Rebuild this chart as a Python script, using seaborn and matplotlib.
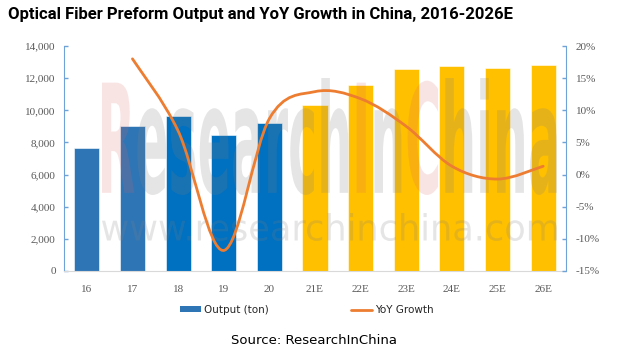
import numpy as np
import pandas as pd
import matplotlib
matplotlib.use("Agg")
import matplotlib.pyplot as plt
import seaborn as sns
from matplotlib.path import Path
from matplotlib.patches import PathPatch, Patch
from matplotlib.lines import Line2D
from matplotlib.textpath import TextPath
from matplotlib.font_manager import FontProperties
from matplotlib.transforms import Affine2D
from matplotlib.ticker import FuncFormatter

# data
years = ['16', '17', '18', '19', '20', '21E', '22E', '23E', '24E', '25E', '26E']
output_ton = [7650, 9020, 9650, 8460, 9210, 10330, 11570, 12570, 12760, 12630, 12820]
yoy_growth = [np.nan, 18.0, 6.8, -11.8, 8.7, 12.9, 11.8, 7.5, 1.3, -0.7, 1.3]
bar_colors = ['#2E75B6', '#2E75B6', '#0070C0', '#0070C0', '#0070C0',
              '#FFC000', '#FFC000', '#FFC000', '#FFC000', '#FFC000', '#FFC000']

line_color = '#ED7D31'
axis_blue = '#6FA3D8'
tick_gray = '#595959'

sns.set_style('white')
fig = plt.figure(figsize=(6.44, 3.59), dpi=100)
ax = fig.add_axes([64 / 644, 1 - 271 / 359, 502 / 644, 225 / 359])

df = pd.DataFrame({'year': years, 'output': output_ton})
sns.barplot(data=df, x='year', y='output', hue='year', palette=bar_colors,
            legend=False, width=0.55, saturation=1, ax=ax,
            edgecolor='white', linewidth=0.4)

ax.set_xlim(-0.5, 10.5)
ax.set_ylim(0, 14000)
ax.set_yticks(range(0, 14001, 2000))
ax.yaxis.set_major_formatter(FuncFormatter(lambda v, p: f'{int(v):,}'))
ax.set_xlabel('')
ax.set_ylabel('')
serif = 'Liberation Serif'
for lab in ax.get_xticklabels() + ax.get_yticklabels():
    lab.set_fontfamily(serif)
    lab.set_fontsize(8)
    lab.set_color(tick_gray)
ax.tick_params(axis='x', length=0, pad=10)
ax.tick_params(axis='y', direction='in', length=3, color=axis_blue, width=1, pad=6, left=True)
ax.spines['top'].set_visible(False)
ax.spines['right'].set_visible(False)
ax.spines['left'].set_color(axis_blue)
ax.spines['bottom'].set_color('#D9D9D9')

# watermark
def vcount(text, prop):
    return len(TextPath((0, 0), text, size=1, prop=prop).vertices) if text else 0

def place(path, x0, y0, w, h):
    ext = path.get_extents()
    return (Affine2D().translate(-ext.x0, -ext.y0)
            .scale(w / ext.width, h / ext.height)
            .translate(x0, y0) + fig.transFigure)

wm = 'ResearchInChina'
prop = FontProperties(family='DejaVu Sans', weight='bold')
full = TextPath((0, 0), wm, size=1, prop=prop)
tr = place(full, 102 / 644, 1 - 195 / 359, 455 / 644, 117 / 359)
cuts = [(vcount(wm[:i], prop), vcount(wm[:i + 1], prop)) for i in [0, 8, 10]]
gray_parts, pink_parts = [], []
prev = 0
for a, b in cuts:
    if a > prev:
        gray_parts.append(Path(full.vertices[prev:a], full.codes[prev:a]))
    pink_parts.append(Path(full.vertices[a:b], full.codes[a:b]))
    prev = b
gray_parts.append(Path(full.vertices[prev:], full.codes[prev:]))
ax.add_patch(PathPatch(Path.make_compound_path(*gray_parts), transform=tr,
                       facecolor='#808080', edgecolor='none', alpha=0.2, zorder=10, clip_on=False))
ax.add_patch(PathPatch(Path.make_compound_path(*pink_parts), transform=tr,
                       facecolor='#E06060', edgecolor='none', alpha=0.17, zorder=10, clip_on=False))

url = TextPath((0, 0), 'www.researchinchina.com', size=1,
               prop=FontProperties(family='DejaVu Sans'))
ax.add_patch(PathPatch(url, transform=place(url, 102 / 644, 1 - 241 / 359, 455 / 644, 28 / 359),
                       facecolor='#808080', edgecolor='none', alpha=0.2, zorder=10, clip_on=False))

# growth line on right axis, smoothed like the Excel curve
ax2 = ax.twinx()
ax2.set_ylim(-15, 20)
ax2.set_yticks(range(-15, 21, 5))
ax2.yaxis.set_major_formatter(FuncFormatter(lambda v, p: f'{int(v)}%'))
for lab in ax2.get_yticklabels():
    lab.set_fontfamily(serif)
    lab.set_fontsize(8)
    lab.set_color(tick_gray)
ax2.tick_params(axis='y', direction='in', length=3, color=axis_blue, width=1, pad=7)
for s in ['top', 'left', 'bottom']:
    ax2.spines[s].set_visible(False)
ax2.spines['right'].set_color(axis_blue)

pts = np.array([[i, v] for i, v in enumerate(yoy_growth) if not np.isnan(v)])
ext_pts = np.vstack([pts[0], pts, pts[-1]])
verts = [pts[0]]
codes = [Path.MOVETO]
for k in range(len(pts) - 1):
    p0, p1, p2, p3 = ext_pts[k], ext_pts[k + 1], ext_pts[k + 2], ext_pts[k + 3]
    verts += [p1 + (p2 - p0) / 6, p2 - (p3 - p1) / 6, p2]
    codes += [Path.CURVE4] * 3
ax2.add_patch(PathPatch(Path(verts, codes), fill=False, edgecolor=line_color,
                        lw=2, capstyle='round', zorder=5))

# title, legend, source
fig.text(8 / 644, 1 - 15 / 359, 'Optical Fiber Preform Output and YoY Growth in China, 2016-2026E',
         fontsize=12, fontweight='bold', fontfamily='Roboto',
         ha='left', va='center', color='black')

handles = [Patch(facecolor='#2E75B6', edgecolor='none'),
           Line2D([0], [0], color=line_color, lw=2)]
fig.legend(handles, ['Output (ton)', 'YoY Growth'], loc='center',
           bbox_to_anchor=(0.477, 1 - 310 / 359), ncol=2, frameon=False,
           handlelength=2, handleheight=0.5, handletextpad=0.3,
           columnspacing=7.9, prop={'family': 'DejaVu Sans', 'size': 7.5})

fig.text(0.488, 1 - 340 / 359, 'Source: ResearchInChina', fontsize=9.5,
         fontfamily='DejaVu Sans', ha='center', va='center', color='black')

fig.savefig('out.png', dpi=100)
